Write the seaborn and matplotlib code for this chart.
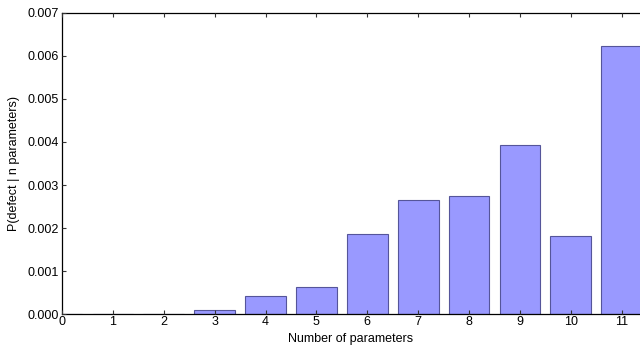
import matplotlib
matplotlib.use("Agg")
import matplotlib.pyplot as plt
import seaborn as sns
import pandas as pd

n_params = list(range(12))
p_defect = [0.00001, 0.00001, 0.00001, 0.00011, 0.00042, 0.00063,
            0.00187, 0.00265, 0.00274, 0.00393, 0.00181, 0.00622]
y_ticks = [0.000, 0.001, 0.002, 0.003, 0.004, 0.005, 0.006, 0.007]

sns.set_theme(style="ticks")
plt.rcParams["font.family"] = ["Liberation Sans", "DejaVu Sans"]
plt.rcParams["text.color"] = "black"
plt.rcParams["axes.labelcolor"] = "black"
plt.rcParams["xtick.color"] = "black"
plt.rcParams["ytick.color"] = "black"

df = pd.DataFrame({"n": n_params, "p": p_defect})

fig = plt.figure(figsize=(6.4, 3.5), dpi=100)
ax = fig.add_axes([0.0969, 0.102, 0.9031, 0.862])

sns.barplot(data=df, x="n", y="p", color="#9999ff", saturation=1,
            width=0.8, edgecolor="#55559a", linewidth=0.8, ax=ax)

ax.set_xlim(0, 11.36)
ax.set_ylim(0, 0.007)
ax.set_yticks(y_ticks)
ax.set_yticklabels([f"{v:.3f}" for v in y_ticks])
ax.set_xticks(n_params)
ax.set_xticklabels([str(v) for v in n_params])

ax.set_xlabel("Number of parameters", fontsize=9, labelpad=4)
ax.set_ylabel("P(defect | n parameters)", fontsize=9, labelpad=6)

ax.tick_params(axis="both", direction="in", length=3, width=0.8,
               labelsize=9, pad=2, color="#333333", labelcolor="black")
ax.tick_params(axis="x", top=True, pad=1)
ax.spines["right"].set_visible(False)
for s in ["left", "top", "bottom"]:
    ax.spines[s].set_linewidth(0.9)
    ax.spines[s].set_color("black")
ax.set_axisbelow(False)

fig.savefig("out.png", dpi=100)
